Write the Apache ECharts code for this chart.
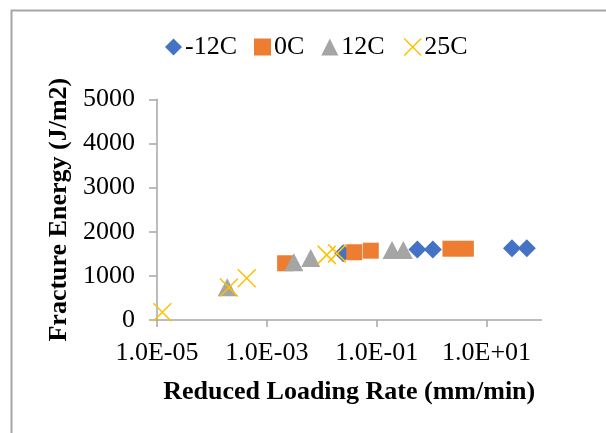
<!DOCTYPE html>
<html>
<head>
<meta charset="utf-8">
<script src="https://cdn.jsdelivr.net/npm/echarts@6/dist/echarts.min.js"></script>
<style>
html,body{margin:0;padding:0;background:#fff;}
#c{width:606px;height:433px;}
</style>
</head>
<body>
<div id="c"></div>
<script>
// Data (x: reduced loading rate mm/min, y: fracture energy J/m2)
const seriesNames = ['-12C', '0C', '12C', '25C'];
const rateM12 = [0.0245, 0.55, 1.05, 29, 54];
const energyM12 = [1510, 1600, 1600, 1625, 1625];
const rate0 = [0.00215, 0.039, 0.078, 2.2, 4.2];
const energy0 = [1285, 1535, 1570, 1615, 1615];
const rate12 = [0.00019, 0.0031, 0.0063, 0.19, 0.305];
const energy12 = [740, 1307, 1405, 1586, 1586];
const rate25 = [0.0000125, 0.000204, 0.00043, 0.0123, 0.019];
const energy25 = [175, 735, 945, 1475, 1510];
const xTicks = [1e-5, 1e-3, 1e-1, 1e1];
const yTicks = [0, 1000, 2000, 3000, 4000, 5000];

const colors = ['#4472C4', '#ED7D31', '#A5A5A5', '#FFC000'];
const serif = '"Liberation Serif", "Times New Roman", serif';
const xPath = 'path://M0,0L10,10M10,0L0,10';

function pairs(xs, ys) { return xs.map((x, i) => [x, ys[i]]); }
function fmtE(v) {
  const e = Math.round(Math.log10(v));
  const a = Math.abs(e);
  return '1.0E' + (e < 0 ? '-' : '+') + (a < 10 ? '0' + a : '' + a);
}

const chart = echarts.init(document.getElementById('c'), null, {renderer: 'canvas'});
chart.setOption({
  animation: false,
  backgroundColor: '#fff',
  graphic: [{
    type: 'rect', left: 9, top: 8, silent: true,
    shape: {x: 0, y: 0, width: 700, height: 500},
    style: {fill: 'none', stroke: '#a6a6a6', lineWidth: 2}
  }],
  legend: {
    top: 29, left: 160,
    itemWidth: 17, itemHeight: 17, itemGap: 17,
    textStyle: {fontFamily: serif, fontSize: 26, color: '#000', padding: [0, 0, 0, -2]},
    data: [
      {name: '-12C', icon: 'diamond', itemStyle: {opacity: 1}},
      {name: '0C', icon: 'rect', itemStyle: {opacity: 1}},
      {name: '12C', icon: 'triangle', itemStyle: {opacity: 1}},
      {name: '25C', icon: xPath, itemStyle: {color: 'none', borderColor: colors[3], borderWidth: 1.5, opacity: 1}}
    ]
  },
  grid: {left: 157, right: 64.5, top: 99.3, bottom: 113, containLabel: false},
  xAxis: {
    type: 'log', logBase: 10, min: 1e-5, max: 1e2,
    name: 'Reduced Loading Rate (mm/min)',
    nameLocation: 'middle', nameGap: 59,
    nameTextStyle: {fontFamily: serif, fontSize: 26, fontWeight: 'bold', color: '#000'},
    axisLine: {lineStyle: {color: '#a6a6a6', width: 1.5}},
    axisTick: {show: true, customValues: xTicks, length: 7, lineStyle: {color: '#a6a6a6', width: 1.5}},
    minorTick: {show: false},
    axisLabel: {customValues: xTicks, formatter: fmtE, fontFamily: serif, fontSize: 26, color: '#000', margin: 20, hideOverlap: false},
    splitLine: {show: false}
  },
  yAxis: {
    type: 'value', min: yTicks[0], max: yTicks[yTicks.length - 1], interval: 1000,
    name: 'Fracture Energy (J/m2)',
    nameLocation: 'middle', nameGap: 74,
    nameTextStyle: {fontFamily: serif, fontSize: 26, fontWeight: 'bold', color: '#000'},
    axisLine: {show: true, lineStyle: {color: '#a6a6a6', width: 1.5}},
    axisTick: {show: true, length: 8, lineStyle: {color: '#a6a6a6', width: 1.5}},
    axisLabel: {formatter: v => String(v), fontFamily: serif, fontSize: 26, color: '#000', margin: 22},
    splitLine: {show: false}
  },
  series: [
    {name: seriesNames[0], type: 'scatter', symbol: 'diamond', symbolSize: 18,
     itemStyle: {color: colors[0], opacity: 1}, data: pairs(rateM12, energyM12)},
    {name: seriesNames[1], type: 'scatter', symbol: 'rect', symbolSize: 16,
     itemStyle: {color: colors[1], opacity: 1}, data: pairs(rate0, energy0)},
    {name: seriesNames[2], type: 'scatter', symbol: 'triangle', symbolSize: [19, 18],
     itemStyle: {color: colors[2], opacity: 1}, data: pairs(rate12, energy12)},
    {name: seriesNames[3], type: 'scatter', symbol: xPath, symbolSize: 18,
     itemStyle: {color: 'none', borderColor: colors[3], borderWidth: 1.5, opacity: 1}, data: pairs(rate25, energy25)}
  ]
});
</script>
</body>
</html>
